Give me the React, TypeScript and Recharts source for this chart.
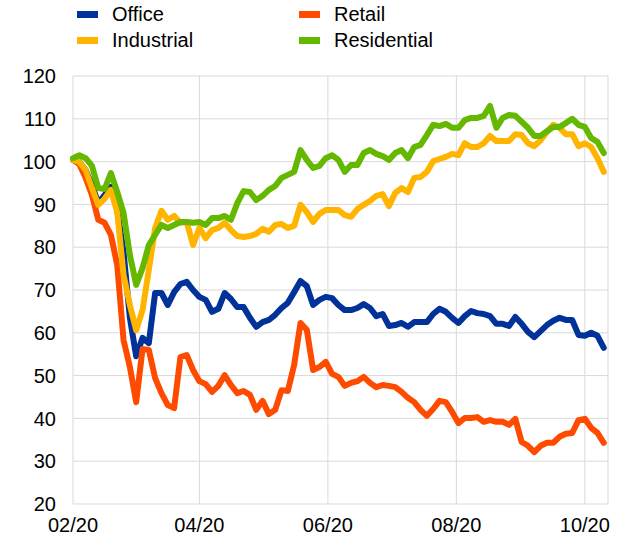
import React from "react"
import { LineChart, Line, XAxis, YAxis, CartesianGrid } from "recharts"

// sampled every 3 days from 1 Feb 2020
const STEP_DAYS = 3

const office = [
  100.4, 99.9, 98.0, 94.5, 90.3, 92.2, 94.1, 88.7, 78.9, 63.5, 54.5, 58.8, 57.6, 69.3, 69.3, 66.5, 69.5, 71.4, 71.9,
  70.0, 68.4, 67.7, 64.9, 65.6, 69.3, 67.9, 66.0, 66.0, 63.5, 61.4, 62.5, 63.0, 64.2, 65.8, 67.0, 69.5, 72.1, 70.9,
  66.5, 67.7, 68.4, 68.1, 66.5, 65.3, 65.3, 65.8, 66.7, 65.8, 63.9, 64.4, 61.6, 61.8, 62.3, 61.4, 62.5, 62.5, 62.5,
  64.4, 65.6, 64.9, 63.5, 62.3, 63.9, 65.1, 64.6, 64.4, 63.9, 62.1, 62.1, 61.6, 63.7, 62.1, 60.2, 59.0, 60.4, 61.8,
  62.8, 63.5, 63.0, 63.0, 59.5, 59.3, 60.0, 59.3, 56.5,
]

const retail = [
  100.4, 99.4, 96.2, 92.2, 86.4, 85.7, 82.9, 75.8, 58.3, 52.0, 43.8, 56.2, 56.0, 49.4, 45.9, 43.1, 42.4, 54.3, 54.8,
  51.3, 48.7, 48.0, 46.2, 47.6, 50.1, 47.8, 45.9, 46.4, 45.5, 42.0, 44.1, 41.0, 42.0, 46.6, 46.4, 52.5, 62.3, 60.7,
  51.3, 52.0, 53.2, 50.4, 49.7, 47.6, 48.3, 48.7, 49.7, 48.3, 47.3, 47.8, 47.6, 47.3, 46.2, 44.8, 43.8, 42.0, 40.6,
  42.2, 44.1, 43.8, 41.5, 38.9, 40.1, 40.1, 40.3, 39.2, 39.6, 39.2, 39.2, 38.5, 39.9, 34.5, 33.6, 32.1, 33.6, 34.3,
  34.3, 35.7, 36.4, 36.6, 39.6, 39.9, 37.8, 36.6, 34.3,
]

const industrial = [
  100.4, 99.9, 98.0, 93.8, 89.9, 91.3, 93.4, 88.2, 73.5, 66.5, 60.6, 65.3, 74.7, 84.5, 88.5, 86.4, 87.3, 85.7, 85.9,
  80.5, 84.5, 82.1, 84.0, 84.5, 85.7, 84.0, 82.6, 82.4, 82.6, 83.1, 84.3, 83.6, 85.2, 85.4, 84.5, 85.0, 89.9, 88.2,
  85.9, 87.8, 88.7, 88.7, 88.7, 87.5, 87.1, 88.9, 89.9, 90.8, 92.0, 92.4, 89.6, 92.7, 93.8, 92.9, 96.2, 96.4, 97.6,
  100.1, 100.6, 101.1, 101.8, 101.5, 104.3, 103.4, 103.4, 104.3, 106.0, 104.8, 104.8, 104.8, 106.4, 106.2, 104.3,
  103.6, 105.0, 106.9, 108.6, 107.9, 106.4, 106.4, 103.6, 104.3, 103.4, 100.8, 97.6,
]

const residential = [
  100.8, 101.5, 100.8, 99.0, 93.8, 93.6, 97.3, 92.9, 88.0, 78.2, 71.2, 75.1, 80.5, 82.9, 85.2, 84.5, 85.2, 85.9, 85.9,
  85.7, 85.9, 85.2, 86.8, 86.8, 87.3, 86.4, 90.3, 93.1, 92.9, 91.0, 92.0, 93.4, 94.3, 96.2, 96.9, 97.6, 102.7, 100.4,
  98.5, 99.0, 100.8, 101.5, 100.4, 97.6, 99.2, 99.2, 102.0, 102.7, 101.8, 101.3, 100.4, 102.0, 102.7, 100.8, 103.4,
  103.9, 106.2, 108.6, 108.3, 108.8, 107.9, 107.9, 109.7, 110.2, 110.2, 110.7, 113.0, 107.9, 110.2, 110.9, 110.7,
  109.3, 107.9, 106.0, 106.0, 107.1, 108.1, 108.1, 109.0, 110.0, 108.6, 108.1, 105.5, 104.6, 102.0,
]

// days since 1 Feb 2020 for the first of each labelled month
const tickDays = [0, 60, 121, 182, 243]
const tickLabels = ["02/20", "04/20", "06/20", "08/20", "10/20"]
const yTicks = [20, 30, 40, 50, 60, 70, 80, 90, 100, 110, 120]

const series = [
  { key: "office", name: "Office", color: "#003299", col: 0, row: 0 },
  { key: "retail", name: "Retail", color: "#ff4b00", col: 1, row: 0 },
  { key: "industrial", name: "Industrial", color: "#ffb400", col: 0, row: 1 },
  { key: "residential", name: "Residential", color: "#65b800", col: 1, row: 1 },
]

const data = office.map((v, i) => ({
  day: i * STEP_DAYS,
  office: v,
  retail: retail[i],
  industrial: industrial[i],
  residential: residential[i],
}))

const font = "'Liberation Sans', Arial, sans-serif"

function ChartLegend() {
  return (
    <>
      {series.map((s) => {
        const left = s.col === 0 ? 77 : 299
        const top = s.row === 0 ? 0 : 26
        return (
          <React.Fragment key={s.key}>
            <div style={{ position: "absolute", left, top: top + 11, width: 21, height: 7, background: s.color }} />
            <div
              style={{
                position: "absolute",
                left: left + 35,
                top: top + 4,
                fontSize: 20,
                lineHeight: "20px",
                color: "#000",
                whiteSpace: "nowrap",
              }}
            >
              {s.name}
            </div>
          </React.Fragment>
        )
      })}
    </>
  )
}

export default function App() {
  return (
    <div style={{ position: "absolute", left: 0, top: 0, width: 621, height: 539, fontFamily: font, background: "#fff" }}>
      <ChartLegend />
      <LineChart width={621} height={539} data={data} margin={{ top: 76, right: 13, bottom: 0, left: 0 }}>
        <CartesianGrid stroke="#d9d9d9" strokeWidth={1} />
        <XAxis
          type="number"
          dataKey="day"
          domain={[0, 254]}
          ticks={tickDays}
          interval={0}
          tickFormatter={(d) => tickLabels[tickDays.indexOf(d)]}
          axisLine={false}
          tickLine={false}
          tickSize={0}
          tickMargin={14}
          height={35}
          tick={{ fill: "#000", fontSize: 20, fontFamily: font }}
        />
        <YAxis
          domain={[20, 120]}
          ticks={yTicks}
          interval={0}
          axisLine={false}
          tickLine={false}
          tickSize={0}
          tickMargin={17}
          width={73}
          tick={{ fill: "#000", fontSize: 20, fontFamily: font }}
        />
        {series.map((s) => (
          <Line
            key={s.key}
            type="linear"
            dataKey={s.key}
            name={s.name}
            stroke={s.color}
            strokeWidth={6}
            strokeLinejoin="round"
            strokeLinecap="round"
            dot={false}
            activeDot={false}
            isAnimationActive={false}
          />
        ))}
      </LineChart>
    </div>
  )
}
